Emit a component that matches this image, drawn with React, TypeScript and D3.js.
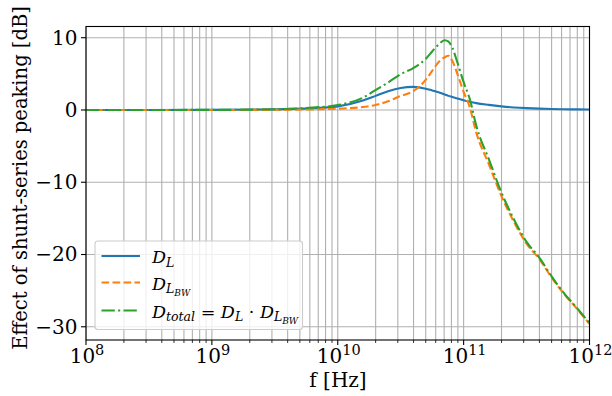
import React from "react";
import * as d3 from "d3";

// log10 of frequency in Hz
const logFreq = [8, 9, 9.5, 9.8, 10, 10.2, 10.3, 10.4, 10.5, 10.6, 10.7, 10.75, 10.8, 10.85, 10.88, 10.91, 10.95, 11.0, 11.05, 11.1, 11.2, 11.3, 11.4, 11.5, 11.6, 11.7, 11.8, 11.9, 12];
const dL = [0, 0.01, 0.08, 0.25, 0.5, 1.3, 1.95, 2.6, 3.05, 3.2, 2.95, 2.7, 2.45, 2.15, 1.95, 1.8, 1.6, 1.35, 1.15, 0.95, 0.7, 0.5, 0.35, 0.25, 0.18, 0.13, 0.1, 0.08, 0.06];
const dLBW = [0, 0, 0.02, 0.08, 0.18, 0.4, 0.7, 1.2, 1.95, 2.6, 4.2, 5.4, 6.6, 7.3, 7.5, 6.8, 5.0, 2.5, 0.3, -3.1, -7.5, -11.9, -15.5, -18.5, -20.6, -23.2, -25.5, -27.5, -29.6];
const dTotal = [0, 0.01, 0.1, 0.33, 0.68, 1.7, 2.75, 3.8, 4.95, 5.8, 7.1, 8.1, 9.05, 9.65, 9.45, 8.6, 6.6, 3.85, 1.45, -2.15, -6.8, -11.4, -15.15, -18.25, -20.4, -23.05, -25.4, -27.4, -29.5];

const xTickExps = [8, 9, 10, 11, 12];
const yTicks = [10, 0, -10, -20, -30];
const xLabel = "f [Hz]";
const yLabel = "Effect of shunt-series peaking [dB]";

const W = 612, H = 396;
const L = 86, R = 589.5, T = 26.5, B = 340;
const FONT = "'DejaVu Serif', 'Liberation Serif', serif";
const FS = 20;
const LFS = 17.5;

export default function App() {
  const x = d3.scaleLog().domain([1e8, 1e12]).range([L, R]);
  const y = d3.scaleLinear().domain([-31.83, 11.55]).range([B, T]);

  const minorX: number[] = [];
  for (let e = 8; e < 12; e++) for (let m = 2; m <= 9; m++) minorX.push(m * Math.pow(10, e));

  const mk = (vals: number[]) =>
    d3.line<number>()
      .x((_, i) => x(Math.pow(10, logFreq[i])))
      .y((v) => y(v))
      .curve(d3.curveMonotoneX)(vals) || "";

  const series = [
    { vals: dL, color: "#1f77b4", dash: "none" },
    { vals: dLBW, color: "#ff7f0e", dash: "7.7,3.3" },
    { vals: dTotal, color: "#2ca02c", dash: "13.3,3.3,2.1,3.3" },
  ];

  const grid = "#b0b0b0";
  const fmt = (v: number) => (v < 0 ? "\u2212" + Math.abs(v) : String(v));

  const legRows = [256, 282.5, 310.5];
  const SUB = 12.5;
  const SUB2 = 9;

  return (
    <svg width={W} height={H} style={{ position: "absolute", left: 0, top: 0, background: "#fff" }} fontFamily={FONT}>
      <defs>
        <clipPath id="clip">
          <rect x={L} y={T} width={R - L} height={B - T} />
        </clipPath>
      </defs>
      <rect x={0} y={0} width={W} height={H} fill="#fff" />
      {/* grid */}
      {minorX.map((v, i) => (
        <line key={"gm" + i} x1={x(v)} x2={x(v)} y1={T} y2={B} stroke={grid} strokeWidth={1.1} />
      ))}
      {xTickExps.map((e) => (
        <line key={"gx" + e} x1={x(Math.pow(10, e))} x2={x(Math.pow(10, e))} y1={T} y2={B} stroke={grid} strokeWidth={1.1} />
      ))}
      {yTicks.map((v) => (
        <line key={"gy" + v} x1={L} x2={R} y1={y(v)} y2={y(v)} stroke={grid} strokeWidth={1.1} />
      ))}
      {/* series */}
      <g clipPath="url(#clip)">
        {series.map((s, i) => (
          <path key={i} d={mk(s.vals)} fill="none" stroke={s.color} strokeWidth={2.1} strokeDasharray={s.dash} />
        ))}
      </g>
      {/* spines */}
      <rect x={L} y={T} width={R - L} height={B - T} fill="none" stroke="#000" strokeWidth={1.1} />
      {/* x ticks */}
      {minorX.map((v, i) => (
        <line key={"tm" + i} x1={x(v)} x2={x(v)} y1={B} y2={B + 3} stroke="#000" strokeWidth={0.8} />
      ))}
      {xTickExps.map((e) => {
        const px = x(Math.pow(10, e));
        return (
          <g key={"tx" + e}>
            <line x1={px} x2={px} y1={B} y2={B + 5} stroke="#000" strokeWidth={1.1} />
            <text x={px + 1} y={362.5} fontSize={FS} textAnchor="middle" fill="#000">
              10<tspan fontSize={14.5} dy={-8}>{e}</tspan>
            </text>
          </g>
        );
      })}
      {/* y ticks */}
      {yTicks.map((v) => (
        <g key={"ty" + v}>
          <line x1={L - 5} x2={L} y1={y(v)} y2={y(v)} stroke="#000" strokeWidth={1.1} />
          <text x={L - 8.5} y={y(v) + 6.8} fontSize={FS} textAnchor="end" fill="#000">{fmt(v)}</text>
        </g>
      ))}
      {/* axis labels */}
      <text x={338} y={387} fontSize={FS} textAnchor="middle" fill="#000">{xLabel}</text>
      <text transform={`translate(27,178) rotate(-90)`} fontSize={19.5} textAnchor="middle" fill="#000">{yLabel}</text>
      {/* legend */}
      <rect x={95} y={241} width={207.5} height={88.5} rx={3} fill="#fff" fillOpacity={0.8} stroke="#cccccc" strokeWidth={1.1} />
      {series.map((s, i) => (
        <line key={"ll" + i} x1={101.5} x2={140} y1={legRows[i]} y2={legRows[i]} stroke={s.color} strokeWidth={2.1} strokeDasharray={s.dash} />
      ))}
      <text x={152} y={legRows[0] + 7} fontSize={LFS} fill="#000" fontStyle="italic">
        D<tspan fontSize={SUB} dy={3.5}>L</tspan>
      </text>
      <text x={152} y={legRows[1] + 7} fontSize={LFS} fill="#000" fontStyle="italic">
        D<tspan fontSize={SUB} dy={3.5}>L</tspan><tspan fontSize={SUB2} dy={2.5}>BW</tspan>
      </text>
      <text x={152} y={legRows[2] + 7} fontSize={LFS} fill="#000" fontStyle="italic">
        D<tspan fontSize={SUB} dy={3.5}>total</tspan>
        <tspan dy={-3.5} fontStyle="normal"> = </tspan>
        <tspan>D</tspan><tspan fontSize={SUB} dy={3.5}>L</tspan>
        <tspan dy={-3.5} fontStyle="normal"> · </tspan>
        <tspan>D</tspan><tspan fontSize={SUB} dy={3.5}>L</tspan><tspan fontSize={SUB2} dy={2.5}>BW</tspan>
      </text>
    </svg>
  );
}
